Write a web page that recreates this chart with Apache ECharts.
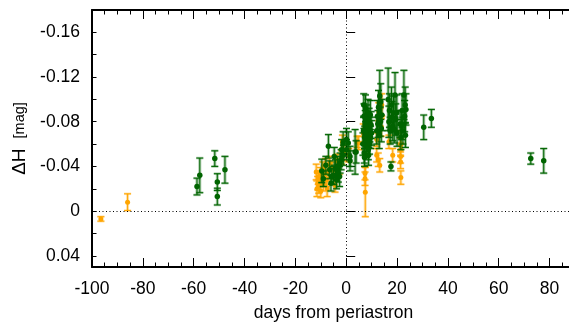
<!DOCTYPE html>
<html>
<head>
<meta charset="utf-8">
<script src="https://cdn.jsdelivr.net/npm/echarts@6/dist/echarts.min.js"></script>
<style>
html,body{margin:0;padding:0;background:#fff;}
#c{width:569px;height:328px;}
</style>
</head>
<body>
<div id="c"></div>
<script>
// [days from periastron, ΔH (mag), error]
const orangeData = [
  [-96.5, 0.007, 0.002], [-86.0, -0.008, 0.0075],
  [-11.8, -0.035, 0.007], [-11.5, -0.020, 0.007], [-11.2, -0.025, 0.006], [-11.0, -0.030, 0.006],
  [-10.8, -0.022, 0.006], [-10.5, -0.027, 0.005], [-10.2, -0.033, 0.006], [-10.0, -0.018, 0.006],
  [-9.6, -0.030, 0.006], [-9.3, -0.038, 0.006], [-9.0, -0.024, 0.006], [-8.6, -0.034, 0.007],
  [-8.2, -0.041, 0.006], [-7.8, -0.028, 0.006], [-7.5, -0.020, 0.007], [-7.0, -0.036, 0.006],
  [-6.5, -0.043, 0.006], [-5.5, -0.038, 0.006], [-4.8, -0.030, 0.006], [-4.4, -0.023, 0.006],
  [-3.5, -0.045, 0.006], [-2.8, -0.040, 0.007], [-1.8, -0.048, 0.006], [-1.5, -0.062, 0.006],
  [-1.0, -0.052, 0.007], [1.0, -0.050, 0.006], [4.3, -0.062, 0.005], [4.9, -0.061, 0.006],
  [7.4, -0.034, 0.006], [7.4, -0.029, 0.006], [7.5, -0.017, 0.022], [6.7, -0.070, 0.008],
  [12.0, -0.064, 0.006], [12.0, -0.050, 0.006], [12.6, -0.046, 0.006], [13.2, -0.041, 0.006],
  [12.8, -0.089, 0.008], [13.3, -0.084, 0.008], [13.8, -0.075, 0.008], [14.0, -0.095, 0.010],
  [16.8, -0.062, 0.006], [18.3, -0.050, 0.006],
  [21.4, -0.066, 0.006], [21.4, -0.059, 0.006], [21.4, -0.055, 0.006], [21.4, -0.049, 0.006],
  [21.4, -0.044, 0.006], [21.5, -0.030, 0.006]
];
const greenData = [
  [-58.7, -0.022, 0.0075], [-57.6, -0.032, 0.0155], [-51.7, -0.047, 0.007],
  [-50.7, -0.026, 0.0075], [-50.7, -0.013, 0.0075], [-47.7, -0.037, 0.012],
  [-9.6, -0.036, 0.0105], [-9.0, -0.029, 0.007], [-8.0, -0.041, 0.008], [-7.0, -0.058, 0.0105],
  [-6.5, -0.037, 0.008], [-6.0, -0.025, 0.007], [-5.7, -0.031, 0.007], [-5.0, -0.032, 0.008],
  [-4.7, -0.049, 0.008], [-4.2, -0.038, 0.008], [-3.8, -0.028, 0.008], [-3.4, -0.040, 0.009],
  [-3.1, -0.034, 0.008], [-2.6, -0.031, 0.009], [-2.4, -0.043, 0.009], [-2.0, -0.046, 0.009],
  [-1.8, -0.055, 0.009], [-1.2, -0.061, 0.010], [-1.1, -0.050, 0.009], [0.1, -0.064, 0.010],
  [0.1, -0.055, 0.009], [0.8, -0.061, 0.010], [1.5, -0.049, 0.009], [1.5, -0.045, 0.009],
  [3.5, -0.053, 0.020], [3.9, -0.053, 0.010],
  [6.6, -0.060, 0.010], [6.8, -0.072, 0.012], [6.9, -0.095, 0.010], [7.0, -0.085, 0.011],
  [7.1, -0.052, 0.009], [7.2, -0.048, 0.008], [7.3, -0.066, 0.010], [7.5, -0.078, 0.012],
  [7.6, -0.092, 0.012], [7.8, -0.058, 0.010], [8.0, -0.070, 0.011], [8.1, -0.082, 0.013],
  [8.3, -0.063, 0.010], [8.4, -0.075, 0.012], [8.6, -0.088, 0.012], [8.7, -0.055, 0.009],
  [8.8, -0.050, 0.009], [8.9, -0.068, 0.011], [9.0, -0.080, 0.012], [9.2, -0.061, 0.010],
  [9.3, -0.073, 0.011], [9.5, -0.086, 0.013], [9.6, -0.066, 0.010], [9.8, -0.077, 0.012],
  [10.0, -0.070, 0.011],
  [12.0, -0.072, 0.012], [12.3, -0.085, 0.014], [12.5, -0.078, 0.012], [12.7, -0.093, 0.015],
  [13.0, -0.068, 0.012], [13.2, -0.103, 0.023], [13.4, -0.080, 0.013], [13.6, -0.098, 0.016],
  [13.8, -0.074, 0.012], [14.0, -0.086, 0.014],
  [16.5, -0.100, 0.028], [16.8, -0.080, 0.014], [17.0, -0.090, 0.015], [17.3, -0.072, 0.012],
  [17.6, -0.040, 0.004], [17.8, -0.095, 0.016], [18.0, -0.084, 0.014], [18.3, -0.076, 0.013],
  [18.6, -0.088, 0.015], [18.9, -0.073, 0.012], [19.2, -0.104, 0.020], [19.5, -0.082, 0.014],
  [19.9, -0.088, 0.016], [20.0, -0.070, 0.012],
  [21.2, -0.078, 0.012], [21.5, -0.066, 0.011], [21.8, -0.077, 0.013], [22.0, -0.090, 0.015],
  [22.3, -0.072, 0.012], [22.7, -0.104, 0.022], [23.0, -0.085, 0.014], [23.2, -0.095, 0.016],
  [23.3, -0.068, 0.011], [23.5, -0.091, 0.014],
  [30.5, -0.075, 0.011], [33.5, -0.083, 0.008], [72.6, -0.047, 0.005], [77.7, -0.045, 0.011]
];
const xTicks = { min: -100, max: 90, interval: 20 };
const yMajor = { min: -0.16, max: 0.04, interval: 0.04 };
const yFull = { min: -0.18, max: 0.05, minorInterval: 0.02 };

const ORANGE = '#ffa500';
const GREEN = '#006400';
const FONT = 'Liberation Sans, Arial, sans-serif';

function errRender(color) {
  return function (params, api) {
    const x = api.value(0), y = api.value(1), e = api.value(2);
    const top = api.coord([x, y - e]);
    const bot = api.coord([x, y + e]);
    const cw = 3.5;
    const halo = { stroke: color, lineWidth: 3, opacity: 0.35 };
    const core = { stroke: color, lineWidth: 1 };
    return {
      type: 'group',
      children: [
        { type: 'line', shape: { x1: top[0], y1: top[1], x2: bot[0], y2: bot[1] }, style: halo },
        { type: 'line', shape: { x1: top[0] - cw, y1: top[1], x2: top[0] + cw, y2: top[1] }, style: { stroke: color, lineWidth: 2.5, opacity: 0.35 } },
        { type: 'line', shape: { x1: bot[0] - cw, y1: bot[1], x2: bot[0] + cw, y2: bot[1] }, style: { stroke: color, lineWidth: 2.5, opacity: 0.35 } },
        { type: 'line', shape: { x1: top[0], y1: top[1], x2: bot[0], y2: bot[1] }, style: core },
        { type: 'line', shape: { x1: top[0] - cw, y1: top[1], x2: top[0] + cw, y2: top[1] }, style: core },
        { type: 'line', shape: { x1: bot[0] - cw, y1: bot[1], x2: bot[0] + cw, y2: bot[1] }, style: core }
      ]
    };
  };
}

const chart = echarts.init(document.getElementById('c'), null, { renderer: 'canvas' });
const gridLeft = 92, gridWidth = 483;
const gridTop = 10, gridBottomPx = 267;
const pxPerUnit = (gridBottomPx - gridTop) / (yFull.max - yFull.min);
const g2Top = gridTop + (yMajor.min - yFull.min) * pxPerUnit;
const g2Bottom = gridTop + (yMajor.max - yFull.min) * pxPerUnit;

chart.setOption({
  animation: false,
  backgroundColor: '#fff',
  grid: [
    { left: gridLeft, width: gridWidth, top: gridTop, height: gridBottomPx - gridTop, outerBoundsMode: 'none', containLabel: false },
    { left: gridLeft, width: gridWidth, top: g2Top, height: g2Bottom - g2Top, outerBoundsMode: 'none', containLabel: false }
  ],
  xAxis: [
    {
      gridIndex: 0, type: 'value', position: 'bottom',
      min: xTicks.min, max: xTicks.max, interval: xTicks.interval,
      axisLine: { show: true, onZero: false, lineStyle: { color: '#000', width: 2 } },
      axisTick: { show: true, inside: true, length: 9, lineStyle: { color: '#000', width: 1 } },
      minorTick: { show: true, splitNumber: 4, length: 4.5, lineStyle: { color: '#000', width: 1 } },
      splitLine: { show: false },
      axisLabel: { show: true, color: '#000', fontSize: 17.5, fontFamily: FONT, margin: 13, showMaxLabel: false },
      name: 'days from periastron', nameLocation: 'middle', nameGap: 37,
      nameTextStyle: { color: '#000', fontSize: 17.5, fontFamily: FONT }
    },
    {
      gridIndex: 0, type: 'value', position: 'top',
      min: xTicks.min, max: xTicks.max, interval: xTicks.interval,
      axisLine: { show: true, onZero: false, lineStyle: { color: '#000', width: 2 } },
      axisTick: { show: true, inside: true, length: 9, lineStyle: { color: '#000', width: 1 } },
      minorTick: { show: true, splitNumber: 4, length: 4.5, lineStyle: { color: '#000', width: 1 } },
      splitLine: { show: false },
      axisLabel: { show: false }
    },
    {
      gridIndex: 1, type: 'value', show: false, min: xTicks.min, max: xTicks.max
    }
  ],
  yAxis: [
    {
      gridIndex: 0, type: 'value', inverse: true,
      min: yFull.min, max: yFull.max, interval: yFull.minorInterval,
      axisLine: { show: true, onZero: false, lineStyle: { color: '#000', width: 2 } },
      axisTick: { show: true, inside: true, length: 4.5, lineStyle: { color: '#000', width: 1 } },
      splitLine: { show: false },
      axisLabel: { show: false },
      name: '{a|ΔH}   {b|[mag]}', nameLocation: 'middle', nameGap: 63, nameRotate: 90,
      nameTextStyle: {
        color: '#000', fontFamily: FONT,
        rich: {
          a: { fontSize: 19, fontFamily: FONT, color: '#000' },
          b: { fontSize: 14.5, fontFamily: FONT, color: '#000' }
        }
      }
    },
    {
      gridIndex: 1, type: 'value', inverse: true,
      min: yMajor.min, max: yMajor.max, interval: yMajor.interval,
      axisLine: { show: false },
      axisTick: { show: true, inside: true, length: 9, lineStyle: { color: '#000', width: 1 } },
      splitLine: { show: false },
      axisLabel: {
        show: true, color: '#000', fontSize: 17.5, fontFamily: FONT, margin: 12,
        formatter: function (v) {
          const r = Math.round(v * 100) / 100;
          if (r === 0) return '0';
          return r.toFixed(2);
        }
      }
    }
  ],
  series: [
    {
      type: 'scatter', xAxisIndex: 0, yAxisIndex: 0, data: [], silent: true,
      markLine: {
        silent: true, symbol: 'none', label: { show: false }, animation: false,
        lineStyle: { color: '#000', type: [1, 2.5], width: 1 },
        data: [{ yAxis: 0 }, { xAxis: 0 }]
      }
    },
    {
      type: 'custom', xAxisIndex: 0, yAxisIndex: 0, data: orangeData,
      renderItem: errRender(ORANGE), silent: true, clip: true, z: 2
    },
    {
      type: 'scatter', xAxisIndex: 0, yAxisIndex: 0, data: orangeData,
      symbol: 'circle', symbolSize: 5, itemStyle: { color: ORANGE, opacity: 1 }, z: 3, silent: true
    },
    {
      type: 'custom', xAxisIndex: 0, yAxisIndex: 0, data: greenData,
      renderItem: errRender(GREEN), silent: true, clip: true, z: 4
    },
    {
      type: 'scatter', xAxisIndex: 0, yAxisIndex: 0, data: greenData,
      symbol: 'circle', symbolSize: 5.5, itemStyle: { color: GREEN, opacity: 1 }, z: 5, silent: true
    }
  ]
});
</script>
</body>
</html>
